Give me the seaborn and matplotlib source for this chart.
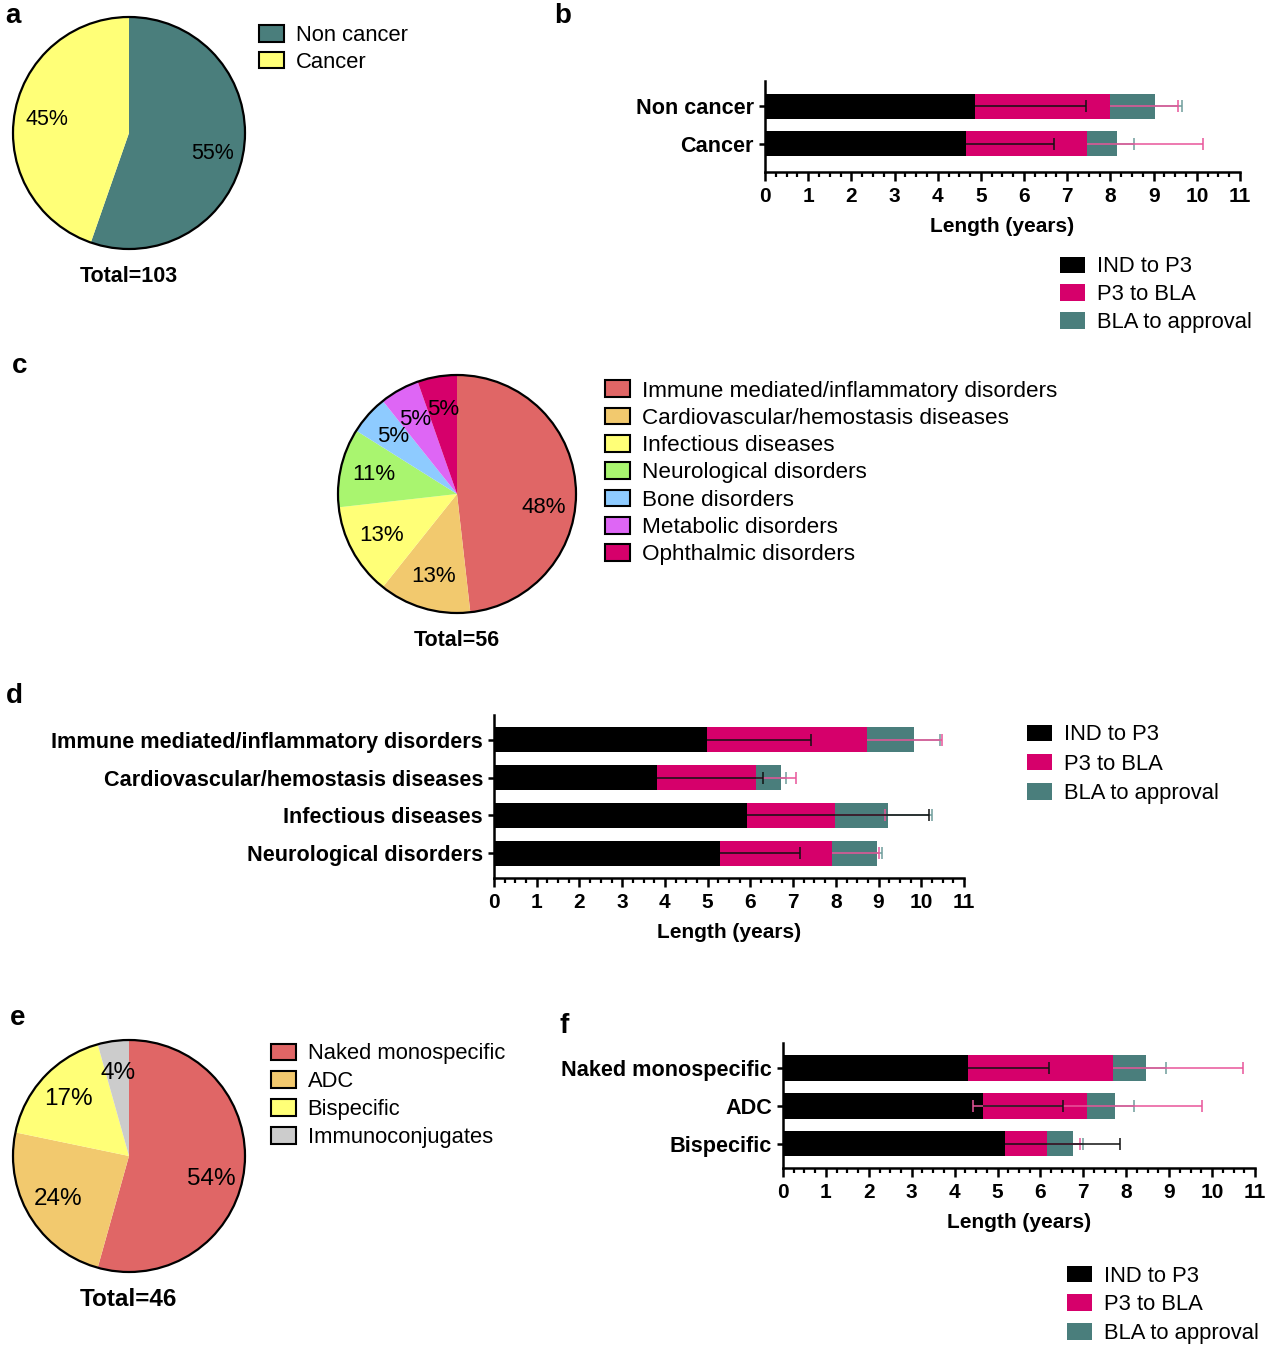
import numpy as np
import pandas as pd
import seaborn as sns
import matplotlib.pyplot as plt
from matplotlib.patches import Patch
from matplotlib.ticker import MultipleLocator

# ---- data ----
# panel a
modality_labels = ["Non cancer", "Cancer"]
modality_counts = [57, 46]
modality_colors = ["#4a7e7c", "#ffff77"]

# panel b
b_cats = ["Non cancer", "Cancer"]
b_ind = [4.86, 4.65]
b_p3 = [3.13, 2.80]
b_bla = [1.04, 0.70]
b_ind_err = [2.57, 2.04]
b_p3_err = [1.57, 2.69]
b_bla_err = [0.62, 0.39]

# panel c
disease_labels = ["Immune mediated/inflammatory disorders", "Cardiovascular/hemostasis diseases",
                  "Infectious diseases", "Neurological disorders", "Bone disorders",
                  "Metabolic disorders", "Ophthalmic disorders"]
disease_counts = [27, 7, 7, 6, 3, 3, 3]
disease_colors = ["#e06666", "#f2c96e", "#ffff77", "#a9f56f", "#8ecbff", "#de66f5", "#d6006b"]

# panel d
d_cats = ["Immune mediated/inflammatory disorders", "Cardiovascular/hemostasis diseases",
          "Infectious diseases", "Neurological disorders"]
d_ind = [4.98, 3.81, 5.93, 5.30]
d_p3 = [3.75, 2.32, 2.04, 2.61]
d_bla = [1.09, 0.58, 1.25, 1.06]
d_ind_err = [2.44, 2.48, 4.26, 1.87]
d_p3_err = [1.76, 0.94, 1.17, 1.09]
d_bla_err = [0.62, 0.12, 1.04, 0.12]

# panel e
format_labels = ["Naked monospecific", "ADC", "Bispecific", "Immunoconjugates"]
format_counts = [25, 11, 8, 2]
format_colors = ["#e06666", "#f2c96e", "#ffff77", "#cccccc"]

# panel f
f_cats = ["Naked monospecific", "ADC", "Bispecific"]
f_ind = [4.30, 4.67, 5.18]
f_p3 = [3.40, 2.41, 0.98]
f_bla = [0.75, 0.66, 0.59]
f_ind_err = [1.90, 1.86, 2.67]
f_p3_err = [3.01, 2.68, 0.76]
f_p3_err_lo = [0, 2.66, 0]
f_bla_err = [0.47, 0.44, 0.24]

phase_labels = ["IND to P3", "P3 to BLA", "BLA to approval"]
phase_colors = ["#000000", "#d6006b", "#4a7e7c"]
err_colors = ["#111111", "#e8559a", "#6f9d9b"]

sns.set_style("ticks")
plt.rcParams['font.family'] = ['Liberation Sans', 'DejaVu Sans']
plt.rcParams.update({"text.color": "black", "axes.labelcolor": "black",
                     "xtick.color": "black", "ytick.color": "black",
                     "axes.edgecolor": "black"})

W, H = 1265, 1346
fig = plt.figure(figsize=(W / 100, H / 100), dpi=100)


def px_axes(x0, y0, x1, y1):
    return fig.add_axes([x0 / W, 1 - y1 / H, (x1 - x0) / W, (y1 - y0) / H])


def draw_pie(cx, cy, r, counts, colors, fsize, shift):
    half = 1.1 * r
    ax = px_axes(cx - half, cy - half, cx + half, cy + half)
    wedges, texts, autotexts = ax.pie(
        counts, colors=colors, startangle=90, counterclock=False,
        autopct=lambda p: "%d%%" % int(p + 0.5), pctdistance=0.72,
        wedgeprops=dict(linewidth=0), textprops=dict(fontsize=fsize, color="black"))
    ax.add_patch(plt.Circle((0, 0), 1, fill=False, lw=1.6, color="black"))
    # nudge label of the big slice like the original
    w = wedges[0]
    th = np.deg2rad((w.theta1 + w.theta2) / 2 - shift)
    autotexts[0].set_position((0.74 * np.cos(th), 0.74 * np.sin(th)))
    ax.set_xlim(-1.1, 1.1)
    ax.set_ylim(-1.1, 1.1)
    ax.set_aspect("equal")
    return ax


def draw_bars(box, cats, ind, p3, bla, ind_err, p3_err, bla_err, ylim, p3_lo=None):
    ax = px_axes(*box)
    ind = np.array(ind)
    p3_end = ind + np.array(p3)
    bla_end = p3_end + np.array(bla)
    for vals, col in zip([bla_end, p3_end, ind], phase_colors[::-1]):
        sns.barplot(x=vals, y=cats, color=col, orient="h", width=0.667,
                    saturation=1, errorbar=None, linewidth=0, ax=ax)
    ypos = np.arange(len(cats))
    lows = [None, p3_lo, None]
    for ends, err, col, lo in zip([bla_end, p3_end, ind], [bla_err, p3_err, ind_err],
                                  err_colors[::-1], lows[::-1]):
        err = np.array(err)
        lo = np.zeros(len(cats)) if lo is None else np.array(lo)
        ax.hlines(ypos, ends - lo, ends + err, color=col, lw=1.1, zorder=5)
        ax.plot(ends + err, ypos, ls="none", marker="|", ms=8, mew=1.1, color=col, zorder=5)
        m = lo > 0
        ax.plot((ends - lo)[m], ypos[m], ls="none", marker="|", ms=8, mew=1.1, color=col, zorder=5)
    ax.set_xlim(0, 11)
    ax.set_ylim(*ylim)
    ax.xaxis.set_major_locator(MultipleLocator(1))
    ax.xaxis.set_minor_locator(MultipleLocator(0.25))
    sns.despine(ax=ax)
    for s in ["left", "bottom"]:
        ax.spines[s].set_linewidth(1.8)
    ax.tick_params(axis="x", which="major", length=6.5, width=1.8, labelsize=15, pad=4.5)
    ax.tick_params(axis="x", which="minor", length=3.6, width=1.6)
    ax.tick_params(axis="y", length=4.5, width=1.8, labelsize=15.6, pad=3.5)
    for t in ax.get_xticklabels() + ax.get_yticklabels():
        t.set_fontweight("bold")
    ax.set_ylabel("")
    ax.set_xlabel("Length (years)", fontsize=15, fontweight="bold", labelpad=8)
    return ax


def add_legend(labels, colors, left, center, spacing, edge=True, fsize=15.8):
    if edge:
        handles = [Patch(facecolor=c, edgecolor="black", linewidth=1.5, label=l)
                   for l, c in zip(labels, colors)]
    else:
        handles = [Patch(facecolor=c, edgecolor="none", label=l) for l, c in zip(labels, colors)]
    fig.legend(handles=handles, loc="upper left", bbox_to_anchor=(left / W, 1 - (center - 8.5) / H),
               frameon=False, fontsize=fsize, handlelength=1.15 * 15.5 / fsize,
               handleheight=0.8 * 15.5 / fsize, handletextpad=0.55 * 15.5 / fsize,
               labelspacing=spacing, borderpad=0, borderaxespad=0)


# panel a
draw_pie(129, 133, 116, modality_counts, modality_colors, 15.5, 4)
add_legend(modality_labels, modality_colors, 259, 33.5, 0.26)
fig.text(129 / W, 1 - 277 / H, "Total=103", ha="center", va="center", fontsize=15.5, fontweight="bold")

# panel b
draw_bars((765, 81, 1240, 171.7), b_cats, b_ind, b_p3, b_bla,
          b_ind_err, b_p3_err, b_bla_err, (1.74, -0.68))
add_legend(phase_labels, phase_colors, 1060, 265, 0.31, edge=False)

# panel c
draw_pie(457, 494, 119, disease_counts, disease_colors, 16, 12)
add_legend(disease_labels, disease_colors, 605, 389, 0.27, fsize=16.2)
fig.text(457 / W, 1 - 640 / H, "Total=56", ha="center", va="center", fontsize=15.5, fontweight="bold")

# panel d
draw_bars((494, 715, 964, 878), d_cats, d_ind, d_p3, d_bla,
          d_ind_err, d_p3_err, d_bla_err, (3.66, -0.66))
add_legend(phase_labels, phase_colors, 1027, 733, 0.38, edge=False)

# panel e
draw_pie(129, 1156, 116, format_counts, format_colors, 17.5, 8)
add_legend(format_labels, format_colors, 271, 1052, 0.31)
fig.text(128 / W, 1 - 1299 / H, "Total=46", ha="center", va="center", fontsize=17.5, fontweight="bold")

# panel f
draw_bars((783, 1043, 1255, 1168), f_cats, f_ind, f_p3, f_bla,
          f_ind_err, f_p3_err, f_bla_err, (2.64, -0.66), p3_lo=f_p3_err_lo)
add_legend(phase_labels, phase_colors, 1067, 1274, 0.36, edge=False)

# panel letters
for letter, x, y in [("a", 5, 23), ("b", 554, 23), ("c", 12, 373),
                     ("d", 6, 703), ("e", 10, 1025), ("f", 560, 1033)]:
    fig.text(x / W, 1 - y / H, letter, fontsize=20, fontweight="bold", va="baseline")

fig.savefig("out.png", dpi=100)
